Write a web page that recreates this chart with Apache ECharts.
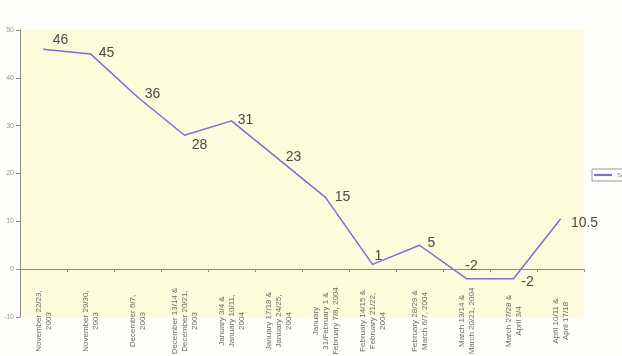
<!DOCTYPE html>
<html><head><meta charset="utf-8">
<script src="https://cdn.jsdelivr.net/npm/echarts@6/dist/echarts.min.js"></script>
<style>html,body{margin:0;padding:0;background:#fefefa;}#c{width:622px;height:356px;}</style>
</head><body><div id="c"></div>
<script>
const categories = [
  "November 22/23,\n2003",
  "November 29/30,\n2003",
  "December 6/7,\n2003",
  "December 13/14 &\nDecember 20/21,\n2003",
  "January 3/4 &\nJanuary 10/11,\n2004",
  "January 17/18 &\nJanuary 24/25,\n2004",
  "January\n31/February 1 &\nFebruary 7/8, 2004",
  "February 14/15 &\nFebruary 21/22,\n2004",
  "February 28/29 &\nMarch 6/7, 2004",
  "March 13/14 &\nMarch 20/21, 2004",
  "March 27/28 &\nApril 3/4",
  "April 10/11 &\nApril 17/18"
];
const values = [46, 45, 36, 28, 31, 23, 15, 1, 5, -2, -2, 10.5];
const yTicks = { min: -10, max: 50, interval: 10 };
const seriesName = "Series1";

// label offsets (style only)
const labelOffsets = [[17,-9],[16,-1],[15,-3],[15,10],[14,-1],[15,-2],[17,0],[6,-8],[12,-2],[5,-13],[14,3],[24,4]];

const chart = echarts.init(document.getElementById('c'), null, {renderer:'canvas'});
chart.setOption({
  backgroundColor: '#fefefa',
  animation: false,
  grid: { left: 20, right: 38, top: 30, bottom: 39, containLabel: false, outerBoundsMode: 'none', show: true,
          backgroundColor: '#fcfbdc', borderWidth: 0 },
  legend: {
    left: 592, top: 169, data: [seriesName], itemWidth: 18, itemHeight: 6,
    padding: [3,3,3,2], borderColor: '#999', borderWidth: 1, backgroundColor: '#fefefa',
    icon: 'path://M0,0 L1,0 L1,0.12 L0,0.12 Z',
    textStyle: { fontSize: 6, color: '#888' }
  },
  xAxis: {
    type: 'category', data: categories, boundaryGap: true,
    axisLine: { onZero: true, lineStyle: { color: '#8c8c78', width: 1 } },
    axisTick: { show: true, length: 3, lineStyle: { color: '#8c8c78' } },
    axisLabel: { interval: 0, rotate: 90, align: 'center', margin: 4,
                 formatter: v => v.split('\n').map(s => '{c|' + s + '}').join('\n'),
                 rich: { c: { align: 'center', fontSize: 8, lineHeight: 10, color: '#6a6a6a', fontFamily: 'Liberation Sans' } },
                 fontSize: 8, lineHeight: 10, color: '#6a6a6a', fontFamily: 'Liberation Sans' },
    splitLine: { show: false }
  },
  yAxis: {
    type: 'value', min: yTicks.min, max: yTicks.max, interval: yTicks.interval,
    axisLine: { show: true, lineStyle: { color: '#8c8c8c' } },
    axisTick: { show: true, length: 4, lineStyle: { color: '#8c8c8c' } },
    axisLabel: { fontSize: 7, color: '#999', margin: 6, fontFamily: 'Liberation Sans' },
    splitLine: { show: false }
  },
  series: [{
    name: seriesName, type: 'line', data: values.map((v,i)=>({
      value: v,
      label: { offset: labelOffsets[i] }
    })),
    symbol: 'circle', symbolSize: 1, showSymbol: true,
    lineStyle: { color: '#7a70d2', width: 1.5 },
    itemStyle: { color: '#7a70d2' },
    label: { show: true, position: 'inside', align: 'center', verticalAlign: 'middle',
             fontSize: 14, color: '#4a4a4a', fontFamily: 'Liberation Sans' }
  }]
});
</script></body></html>
